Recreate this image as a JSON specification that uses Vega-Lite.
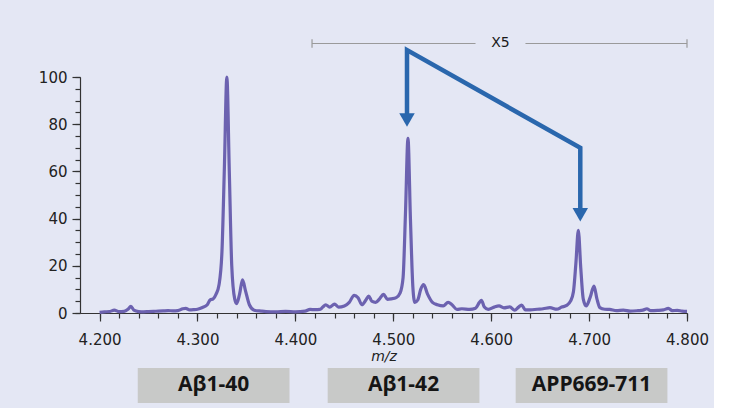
{
  "$schema": "https://vega.github.io/schema/vega-lite/v6.json",
  "width": 607,
  "height": 236,
  "padding": {"left": 38, "top": 36, "right": 5, "bottom": 5},
  "background": "#e4e7f4",
  "config": {"view": {"stroke": null}, "font": "DejaVu Sans"},
  "resolve": {"axis": {"x": "independent", "y": "independent"}},
  "datasets": {
    "spectrum": [
      {"mz": 4.200, "intensity": 0.3}, {"mz": 4.205, "intensity": 0.5}, {"mz": 4.210, "intensity": 0.6},
      {"mz": 4.215, "intensity": 1.2}, {"mz": 4.220, "intensity": 0.6}, {"mz": 4.225, "intensity": 0.7},
      {"mz": 4.229, "intensity": 1.6}, {"mz": 4.232, "intensity": 2.8}, {"mz": 4.235, "intensity": 1.2},
      {"mz": 4.240, "intensity": 0.6}, {"mz": 4.245, "intensity": 0.5}, {"mz": 4.250, "intensity": 0.6},
      {"mz": 4.255, "intensity": 0.7}, {"mz": 4.260, "intensity": 0.8}, {"mz": 4.265, "intensity": 0.9},
      {"mz": 4.270, "intensity": 1.0}, {"mz": 4.275, "intensity": 0.9}, {"mz": 4.280, "intensity": 1.0},
      {"mz": 4.285, "intensity": 1.8}, {"mz": 4.288, "intensity": 2.0}, {"mz": 4.292, "intensity": 1.3},
      {"mz": 4.296, "intensity": 1.4}, {"mz": 4.300, "intensity": 1.6}, {"mz": 4.305, "intensity": 2.3},
      {"mz": 4.310, "intensity": 3.5}, {"mz": 4.313, "intensity": 5.6}, {"mz": 4.316, "intensity": 6.0},
      {"mz": 4.319, "intensity": 8.0}, {"mz": 4.322, "intensity": 12}, {"mz": 4.325, "intensity": 26},
      {"mz": 4.3275, "intensity": 62}, {"mz": 4.330, "intensity": 100}, {"mz": 4.3325, "intensity": 60},
      {"mz": 4.335, "intensity": 20}, {"mz": 4.338, "intensity": 6}, {"mz": 4.340, "intensity": 4},
      {"mz": 4.343, "intensity": 8}, {"mz": 4.346, "intensity": 14}, {"mz": 4.349, "intensity": 9.5},
      {"mz": 4.353, "intensity": 3.5}, {"mz": 4.358, "intensity": 1.2}, {"mz": 4.365, "intensity": 0.8},
      {"mz": 4.370, "intensity": 0.6}, {"mz": 4.380, "intensity": 0.5}, {"mz": 4.390, "intensity": 0.7},
      {"mz": 4.400, "intensity": 0.5}, {"mz": 4.410, "intensity": 0.8}, {"mz": 4.415, "intensity": 1.5},
      {"mz": 4.420, "intensity": 1.4}, {"mz": 4.425, "intensity": 1.5}, {"mz": 4.428, "intensity": 2.5},
      {"mz": 4.431, "intensity": 3.5}, {"mz": 4.435, "intensity": 2.5}, {"mz": 4.440, "intensity": 3.8},
      {"mz": 4.444, "intensity": 2.5}, {"mz": 4.450, "intensity": 3.0}, {"mz": 4.455, "intensity": 4.5},
      {"mz": 4.460, "intensity": 7.5}, {"mz": 4.464, "intensity": 6.5}, {"mz": 4.468, "intensity": 3.5},
      {"mz": 4.472, "intensity": 5.5}, {"mz": 4.475, "intensity": 7.2}, {"mz": 4.478, "intensity": 5.0},
      {"mz": 4.482, "intensity": 4.5}, {"mz": 4.486, "intensity": 6.0}, {"mz": 4.490, "intensity": 7.9},
      {"mz": 4.494, "intensity": 5.8}, {"mz": 4.498, "intensity": 6.0}, {"mz": 4.503, "intensity": 6.5},
      {"mz": 4.507, "intensity": 8.5}, {"mz": 4.510, "intensity": 15}, {"mz": 4.5125, "intensity": 43},
      {"mz": 4.515, "intensity": 74}, {"mz": 4.5175, "intensity": 40}, {"mz": 4.520, "intensity": 11},
      {"mz": 4.522, "intensity": 4.5}, {"mz": 4.525, "intensity": 5.5}, {"mz": 4.528, "intensity": 10},
      {"mz": 4.531, "intensity": 12}, {"mz": 4.535, "intensity": 8}, {"mz": 4.540, "intensity": 4.5},
      {"mz": 4.545, "intensity": 3.5}, {"mz": 4.551, "intensity": 3.0}, {"mz": 4.556, "intensity": 4.5},
      {"mz": 4.560, "intensity": 3.5}, {"mz": 4.565, "intensity": 1.5}, {"mz": 4.570, "intensity": 1.8},
      {"mz": 4.578, "intensity": 1.5}, {"mz": 4.584, "intensity": 2.0}, {"mz": 4.588, "intensity": 4.5},
      {"mz": 4.590, "intensity": 5.4}, {"mz": 4.593, "intensity": 2.5}, {"mz": 4.597, "intensity": 1.5},
      {"mz": 4.603, "intensity": 2.5}, {"mz": 4.608, "intensity": 3.0}, {"mz": 4.613, "intensity": 2.2},
      {"mz": 4.619, "intensity": 2.6}, {"mz": 4.624, "intensity": 1.2}, {"mz": 4.628, "intensity": 2.5},
      {"mz": 4.631, "intensity": 3.4}, {"mz": 4.635, "intensity": 1.3}, {"mz": 4.640, "intensity": 1.3},
      {"mz": 4.647, "intensity": 1.6}, {"mz": 4.653, "intensity": 1.8}, {"mz": 4.660, "intensity": 2.3},
      {"mz": 4.667, "intensity": 1.6}, {"mz": 4.672, "intensity": 2.5}, {"mz": 4.677, "intensity": 3.2},
      {"mz": 4.681, "intensity": 5.0}, {"mz": 4.684, "intensity": 9}, {"mz": 4.6865, "intensity": 21},
      {"mz": 4.689, "intensity": 35}, {"mz": 4.6915, "intensity": 19}, {"mz": 4.694, "intensity": 6},
      {"mz": 4.697, "intensity": 3}, {"mz": 4.701, "intensity": 6.5}, {"mz": 4.705, "intensity": 11.4},
      {"mz": 4.708, "intensity": 6}, {"mz": 4.711, "intensity": 2.3}, {"mz": 4.716, "intensity": 1.6},
      {"mz": 4.721, "intensity": 1.5}, {"mz": 4.728, "intensity": 1.0}, {"mz": 4.735, "intensity": 1.2},
      {"mz": 4.742, "intensity": 0.8}, {"mz": 4.750, "intensity": 1.0}, {"mz": 4.755, "intensity": 1.2},
      {"mz": 4.759, "intensity": 1.8}, {"mz": 4.763, "intensity": 1.0}, {"mz": 4.770, "intensity": 1.1},
      {"mz": 4.776, "intensity": 1.3}, {"mz": 4.781, "intensity": 2.0}, {"mz": 4.785, "intensity": 1.0},
      {"mz": 4.790, "intensity": 1.1}, {"mz": 4.795, "intensity": 0.8}, {"mz": 4.800, "intensity": 0.7}
    ],
    "arrow": [
      {"order": 1, "mz": 4.514, "intensity": 82},
      {"order": 2, "mz": 4.514, "intensity": 111.4},
      {"order": 3, "mz": 4.691, "intensity": 70},
      {"order": 4, "mz": 4.691, "intensity": 42}
    ],
    "heads": [
      {"mz": 4.514, "intensity": 81.8},
      {"mz": 4.691, "intensity": 41.6}
    ],
    "scale_bar": [
      {"start": 4.417, "end": 4.584, "level": 114.2},
      {"start": 4.635, "end": 4.800, "level": 114.2}
    ],
    "caps": [
      {"mz": 4.417, "low": 112.4, "high": 116.0},
      {"mz": 4.800, "low": 112.4, "high": 116.0}
    ],
    "scale_label": [
      {"mz": 4.6095, "level": 114.2, "label": "X5"}
    ],
    "boxes": [
      {"start": 4.239, "end": 4.394, "mid": 4.3165, "top": -23.3, "bottom": -38.1, "center": -30.7, "label": "Aβ1-40"},
      {"start": 4.433, "end": 4.588, "mid": 4.5105, "top": -23.3, "bottom": -38.1, "center": -30.7, "label": "Aβ1-42"},
      {"start": 4.625, "end": 4.780, "mid": 4.7025, "top": -23.3, "bottom": -38.1, "center": -30.7, "label": "APP669-711"}
    ]
  },
  "layer": [
    {
      "data": {"name": "spectrum"},
      "mark": {"type": "line", "color": "#6c62b0", "strokeWidth": 3.2, "interpolate": "monotone"},
      "encoding": {
        "x": {
          "field": "mz", "type": "quantitative",
          "scale": {"domain": [4.18, 4.8], "nice": false, "zero": false},
          "axis": {
            "orient": "bottom",
            "title": "m/z",
            "titleFont": "DejaVu Sans",
            "titleFontStyle": "italic",
            "titleFontWeight": "normal",
            "titleFontSize": 14,
            "titleColor": "#222222",
            "titlePadding": 2,
            "values": [4.2, 4.3, 4.4, 4.5, 4.6, 4.7, 4.8],
            "format": ".3f",
            "labelFont": "DejaVu Sans",
            "labelFontSize": 15,
            "labelColor": "#222222",
            "labelPadding": 11,
            "labelFlush": false,
            "labelOverlap": false,
            "tickSize": 8,
            "tickColor": "#333333",
            "tickWidth": 1.2,
            "domainColor": "#333333",
            "domainWidth": 1.2,
            "grid": false
          }
        },
        "y": {
          "field": "intensity", "type": "quantitative",
          "scale": {"domain": [0, 100], "nice": false},
          "axis": {
            "orient": "left",
            "title": null,
            "values": [0, 20, 40, 60, 80, 100],
            "labelFont": "DejaVu Sans",
            "labelFontSize": 15,
            "labelColor": "#222222",
            "labelPadding": 5,
            "labelOverlap": false,
            "tickSize": 8,
            "tickColor": "#333333",
            "tickWidth": 1.2,
            "domainColor": "#333333",
            "domainWidth": 1.2,
            "grid": false
          }
        }
      }
    },
    {
      "data": {"name": "scale_bar"},
      "mark": {"type": "rule", "color": "#9a9a9a", "strokeWidth": 1.2},
      "encoding": {
        "x": {
          "field": "start", "type": "quantitative",
          "axis": {
            "orient": "bottom",
            "title": null,
            "values": [4.2, 4.22, 4.24, 4.26, 4.28, 4.3, 4.32, 4.34, 4.36, 4.38, 4.4, 4.42, 4.44, 4.46, 4.48, 4.5, 4.52, 4.54, 4.56, 4.58, 4.6, 4.62, 4.64, 4.66, 4.68, 4.7, 4.72, 4.74, 4.76, 4.78, 4.8],
            "labels": false,
            "domain": false,
            "grid": false,
            "tickSize": 5,
            "tickColor": "#333333",
            "tickWidth": 1.2
          }
        },
        "x2": {"field": "end"},
        "y": {
          "field": "level", "type": "quantitative",
          "axis": {
            "orient": "left",
            "title": null,
            "values": [0, 5, 10, 15, 20, 25, 30, 35, 40, 45, 50, 55, 60, 65, 70, 75, 80, 85, 90, 95, 100],
            "labels": false,
            "domain": false,
            "grid": false,
            "tickSize": 5,
            "tickColor": "#333333",
            "tickWidth": 1.2
          }
        }
      }
    },
    {
      "data": {"name": "caps"},
      "mark": {"type": "rule", "color": "#9a9a9a", "strokeWidth": 1.2},
      "encoding": {
        "x": {"field": "mz", "type": "quantitative", "axis": null},
        "y": {"field": "low", "type": "quantitative", "axis": null},
        "y2": {"field": "high"}
      }
    },
    {
      "data": {"name": "scale_label"},
      "mark": {"type": "text", "fontSize": 14, "color": "#1a1a1a", "baseline": "middle", "align": "center"},
      "encoding": {
        "x": {"field": "mz", "type": "quantitative", "axis": null},
        "y": {"field": "level", "type": "quantitative", "axis": null},
        "text": {"field": "label"}
      }
    },
    {
      "data": {"name": "arrow"},
      "mark": {"type": "line", "color": "#2a67ad", "strokeWidth": 4.5, "strokeJoin": "miter"},
      "encoding": {
        "x": {"field": "mz", "type": "quantitative", "axis": null},
        "y": {"field": "intensity", "type": "quantitative", "axis": null},
        "order": {"field": "order"}
      }
    },
    {
      "data": {"name": "heads"},
      "mark": {"type": "point", "shape": "triangle-down", "filled": true, "color": "#2a67ad", "opacity": 1, "size": 240},
      "encoding": {
        "x": {"field": "mz", "type": "quantitative", "axis": null},
        "y": {"field": "intensity", "type": "quantitative", "axis": null}
      }
    },
    {
      "data": {"name": "boxes"},
      "mark": {"type": "rect", "color": "#c8c9c8"},
      "encoding": {
        "x": {"field": "start", "type": "quantitative", "axis": null},
        "x2": {"field": "end"},
        "y": {"field": "top", "type": "quantitative", "axis": null},
        "y2": {"field": "bottom"}
      }
    },
    {
      "data": {"name": "boxes"},
      "mark": {"type": "text", "font": "Open Sans", "fontWeight": "bold", "fontSize": 21, "color": "#151515", "baseline": "middle", "align": "center"},
      "encoding": {
        "x": {"field": "mid", "type": "quantitative", "axis": null},
        "y": {"field": "center", "type": "quantitative", "axis": null},
        "text": {"field": "label"}
      }
    }
  ]
}
